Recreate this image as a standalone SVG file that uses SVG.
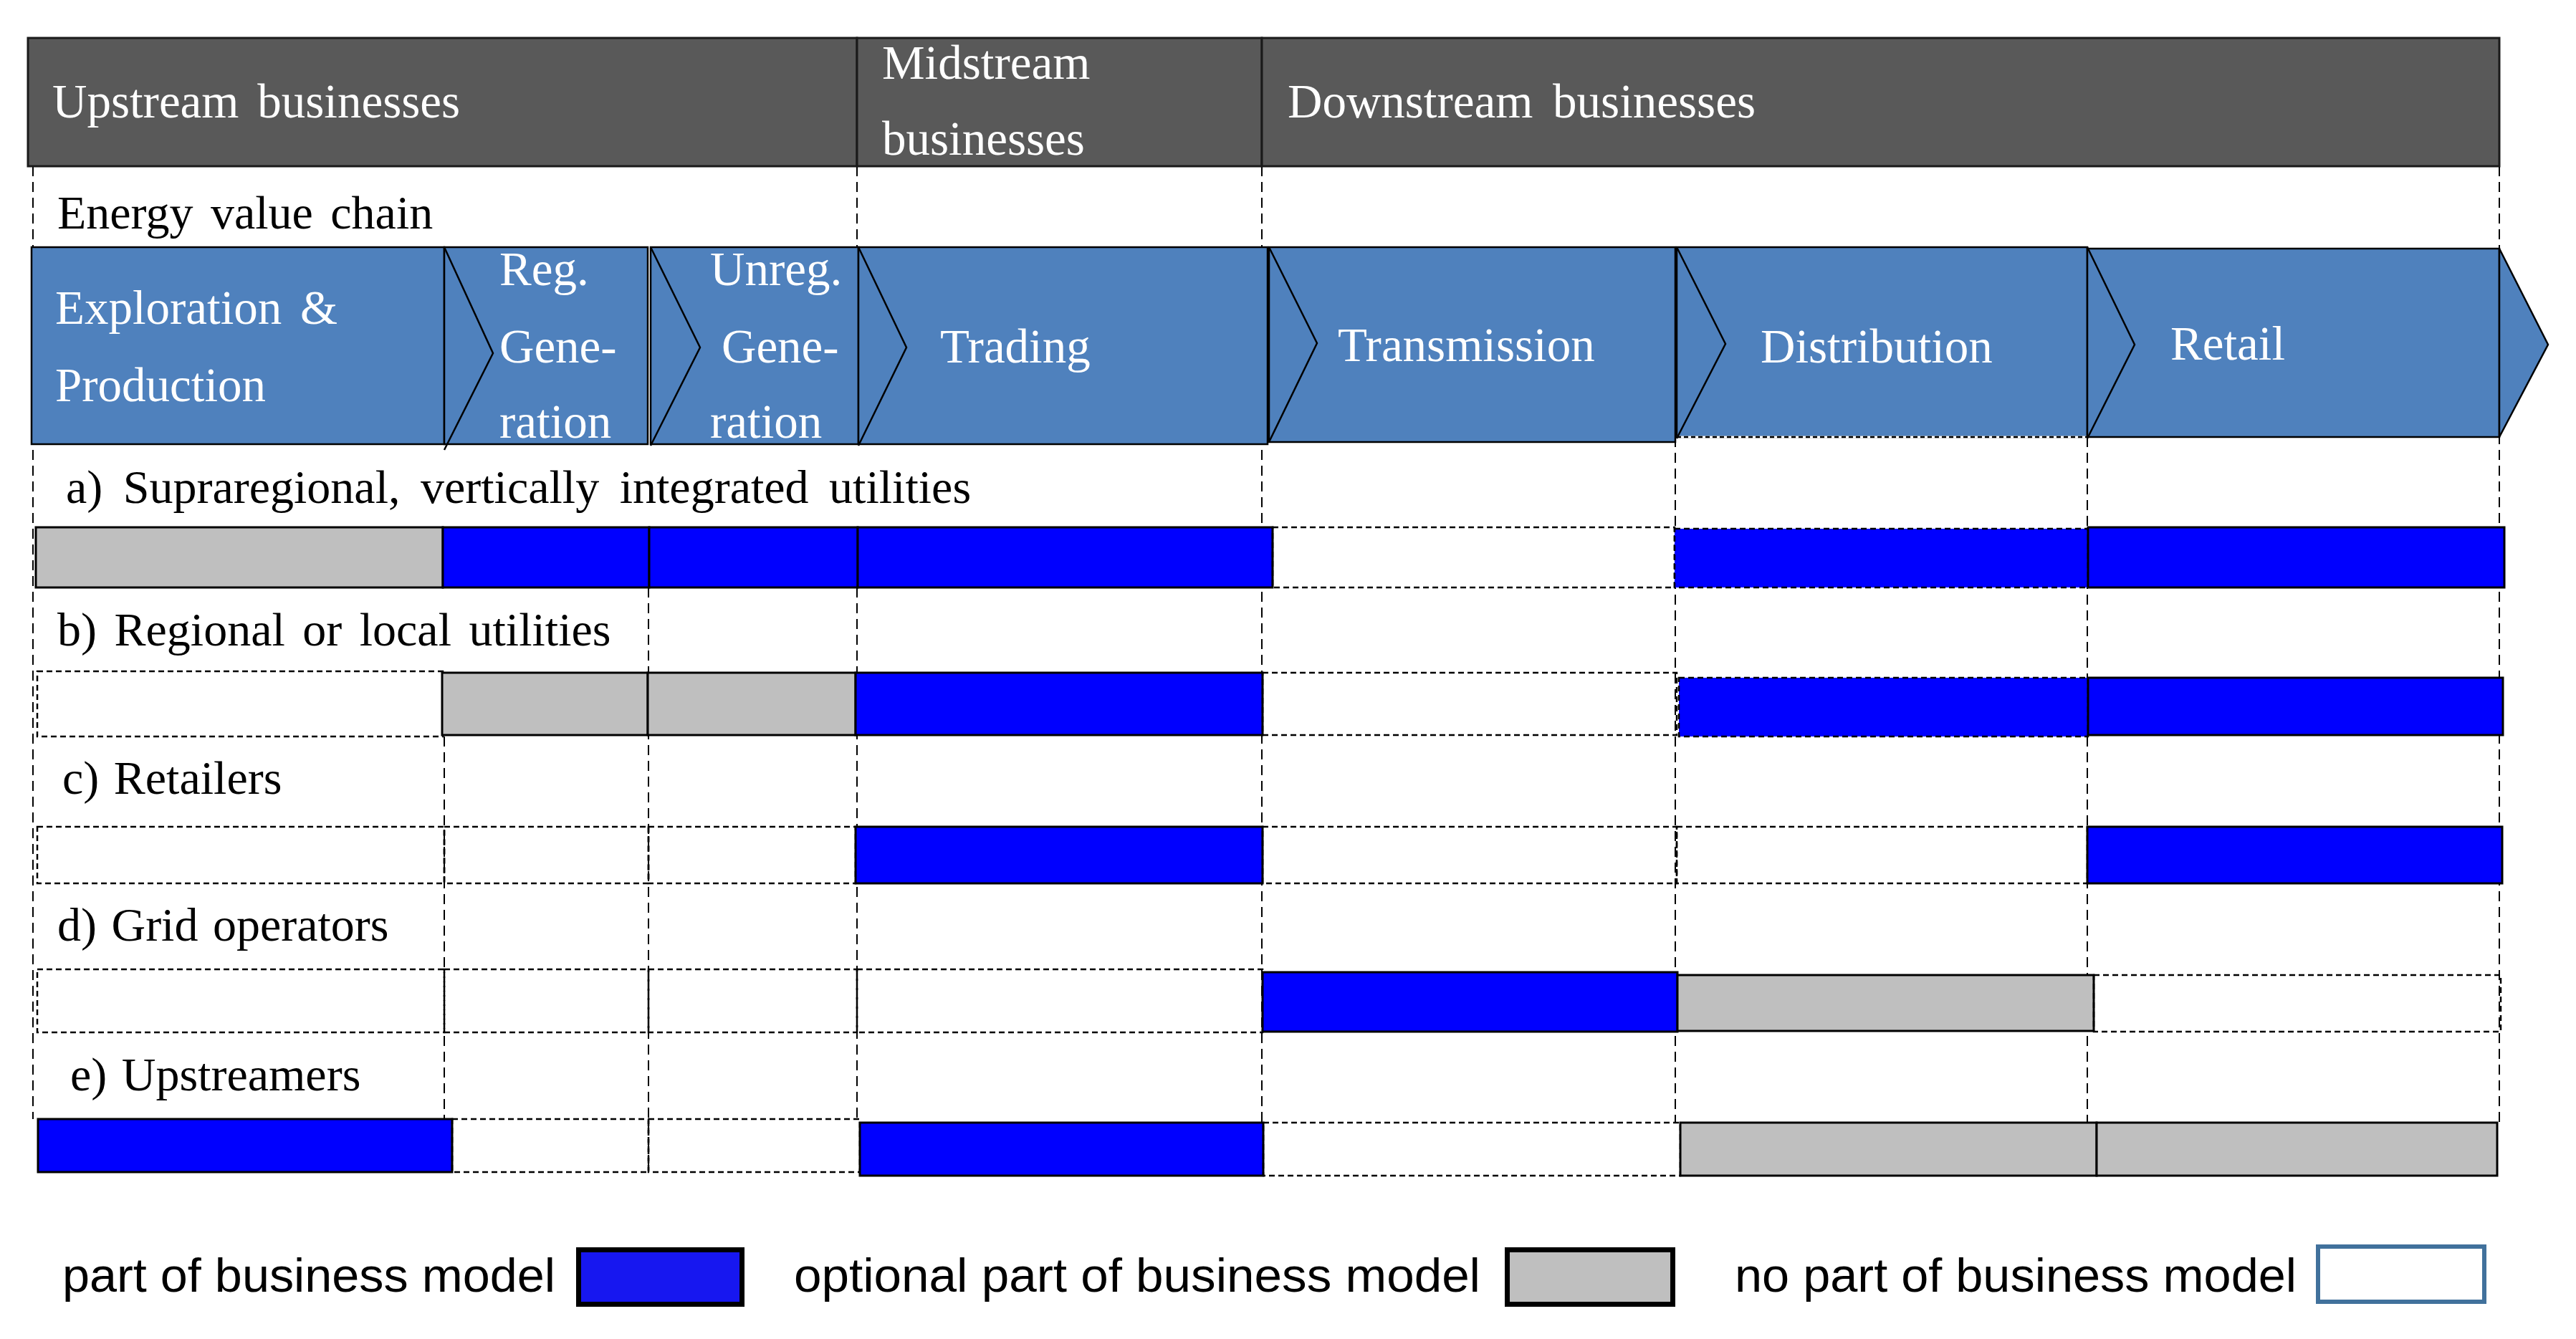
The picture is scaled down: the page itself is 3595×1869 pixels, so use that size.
<svg xmlns="http://www.w3.org/2000/svg" width="3595" height="1869" viewBox="0 0 3595 1869">
<style>
.serif{font-family:"Liberation Serif","Times New Roman",serif;font-size:67px;word-spacing:9px}
.lbl{font-family:"Liberation Serif","Times New Roman",serif;font-size:66px;word-spacing:4px}
.w{fill:#fff}
.k{fill:#000}
.legend{font-family:"Liberation Sans",Arial,sans-serif;font-size:66px;fill:#000}
.hdr{fill:#595959;stroke:#1a1a1a;stroke-width:3}
.chev{fill:#4F81BD;stroke:#000;stroke-width:2.5}
.tipline{fill:none;stroke:#000;stroke-width:2.5}
.blue{fill:#0000FF;stroke:#000;stroke-width:3}
.bluedash{fill:#0000FF;stroke:#000;stroke-width:2.5;stroke-dasharray:8 5}
.gray{fill:#BFBFBF;stroke:#000;stroke-width:3}
.empty{fill:none;stroke:#000;stroke-width:2.5;stroke-dasharray:8 5}
.vline{fill:none;stroke:#000;stroke-width:2;stroke-dasharray:14 8}
</style>
<rect width="3595" height="1869" fill="#fff"/>

<g id="gridlines">
<line class="vline" x1="46" y1="232" x2="46" y2="1562"/>
<line class="vline" x1="1196" y1="232" x2="1196" y2="345"/>
<line class="vline" x1="1196" y1="820" x2="1196" y2="1562"/>
<line class="vline" x1="1761" y1="232" x2="1761" y2="1567"/>
<line class="vline" x1="2338" y1="610" x2="2338" y2="1567"/>
<line class="vline" x1="2913" y1="610" x2="2913" y2="1567"/>
<line class="vline" x1="3488" y1="232" x2="3488" y2="1567"/>
<line class="vline" x1="620" y1="1028" x2="620" y2="1636"/>
<line class="vline" x1="905" y1="820" x2="905" y2="1636"/>
</g>

<g id="header">
<g id="hdr-upstream"><rect class="hdr" x="39" y="53" width="1157" height="179"/><text class="serif w" x="73" y="164">Upstream businesses</text></g>
<g id="hdr-midstream"><rect class="hdr" x="1196" y="53" width="565" height="179"/><text class="serif w" x="1231" y="110">Midstream</text><text class="serif w" x="1231" y="216">businesses</text></g>
<g id="hdr-downstream"><rect class="hdr" x="1761" y="53" width="1727" height="179"/><text class="serif w" x="1797" y="164" style="word-spacing:11px">Downstream businesses</text></g>
</g>

<g id="energy-value-chain-label"><text class="lbl k" x="80" y="319" style="word-spacing:8px">Energy value chain</text></g>

<g id="chevrons">
<g id="chev-exploration"><rect class="chev" x="44" y="345" width="576" height="275"/><text class="serif w" x="77" y="452">Exploration &amp;</text><text class="serif w" x="77" y="560">Production</text></g>
<g id="chev-reg-gen"><rect class="chev" x="620" y="345" width="284" height="275"/><polyline class="tipline" points="620,345 688,493 620,628"/><text class="serif w" x="697" y="398">Reg.</text><text class="serif w" x="697" y="506">Gene-</text><text class="serif w" x="697" y="611">ration</text></g>
<g id="chev-unreg-gen"><rect class="chev" x="908" y="345" width="290" height="275"/><polyline class="tipline" points="908,345 977,485 908,622"/><text class="serif w" x="991" y="398">Unreg.</text><text class="serif w" x="1007" y="506">Gene-</text><text class="serif w" x="991" y="611">ration</text></g>
<g id="chev-trading"><rect class="chev" x="1198" y="345" width="571" height="275"/><polyline class="tipline" points="1198,345 1265,485 1198,622"/><text class="serif w" x="1312" y="506">Trading</text></g>
<g id="chev-transmission"><rect class="chev" x="1771" y="345" width="567" height="272"/><polyline class="tipline" points="1771,345 1838,479 1771,617"/><text class="serif w" x="1867" y="504">Transmission</text></g>
<g id="chev-distribution"><rect class="chev" x="2340" y="345" width="573" height="265"/><line x1="2340" y1="610" x2="2913" y2="610" stroke="#fff" stroke-width="3"/><line x1="2340" y1="610" x2="2913" y2="610" stroke="#000" stroke-width="2.5" stroke-dasharray="6 4"/><polyline class="tipline" points="2340,345 2408,480 2340,612"/><text class="serif w" x="2457" y="506">Distribution</text></g>
<g id="chev-retail"><rect class="chev" x="2913" y="347" width="575" height="263"/><polyline class="tipline" points="2913,345 2979,481 2913,612"/><polygon class="chev" points="3488,347 3556,481 3488,610"/><text class="serif w" x="3029" y="502">Retail</text></g>
</g>

<g id="row-a">
<text class="lbl k" x="92" y="702" style="word-spacing:12px">a) Supraregional, vertically integrated utilities</text>
<rect class="gray" x="50" y="736" width="568" height="84"/>
<rect class="blue" x="618" y="736" width="288" height="84"/>
<rect class="blue" x="906" y="736" width="291" height="84"/>
<rect class="blue" x="1197" y="736" width="579" height="84"/>
<rect class="empty" x="1776" y="736" width="561" height="84"/>
<rect class="bluedash" x="2337" y="738" width="577" height="82"/>
<rect class="blue" x="2914" y="736" width="581" height="84"/>
</g>

<g id="row-b">
<text class="lbl k" x="80" y="901" style="word-spacing:8px">b) Regional or local utilities</text>
<rect class="empty" x="52" y="937" width="566" height="91"/>
<rect class="gray" x="617" y="939" width="287" height="87"/>
<rect class="gray" x="904" y="939" width="290" height="87"/>
<rect class="blue" x="1194" y="939" width="568" height="87"/>
<rect class="empty" x="1762" y="939" width="578" height="87"/>
<rect class="bluedash" x="2343" y="946" width="571" height="82"/>
<rect class="blue" x="2914" y="946" width="579" height="80"/>
</g>

<g id="row-c">
<text class="lbl k" x="87" y="1108">c) Retailers</text>
<rect class="empty" x="52" y="1154" width="568" height="79"/>
<rect class="empty" x="620" y="1154" width="285" height="79"/>
<rect class="empty" x="905" y="1154" width="289" height="79"/>
<rect class="blue" x="1194" y="1154" width="568" height="79"/>
<rect class="empty" x="1762" y="1154" width="578" height="79"/>
<rect class="empty" x="2340" y="1154" width="573" height="79"/>
<rect class="blue" x="2913" y="1154" width="579" height="79"/>
</g>

<g id="row-d">
<text class="lbl k" x="80" y="1313">d) Grid operators</text>
<rect class="empty" x="52" y="1353" width="568" height="88"/>
<rect class="empty" x="620" y="1353" width="285" height="88"/>
<rect class="empty" x="905" y="1353" width="291" height="88"/>
<rect class="empty" x="1196" y="1353" width="566" height="88"/>
<rect class="blue" x="1762" y="1357" width="579" height="83"/>
<rect class="gray" x="2341" y="1361" width="581" height="78"/>
<rect class="empty" x="2922" y="1361" width="568" height="79"/>
</g>

<g id="row-e">
<text class="lbl k" x="98" y="1522">e) Upstreamers</text>
<rect class="blue" x="53" y="1562" width="578" height="74"/>
<rect class="empty" x="631" y="1562" width="274" height="74"/>
<rect class="empty" x="905" y="1562" width="295" height="74"/>
<rect class="blue" x="1200" y="1567" width="563" height="74"/>
<rect class="empty" x="1763" y="1567" width="582" height="74"/>
<rect class="gray" x="2345" y="1567" width="581" height="74"/>
<rect class="gray" x="2926" y="1567" width="559" height="74"/>
</g>

<g id="legend">
<g id="legend-part"><text class="legend" x="87" y="1803" textLength="688" lengthAdjust="spacingAndGlyphs">part of business model</text><rect x="807.5" y="1744.5" width="228" height="76" fill="#1717F0" stroke="#000" stroke-width="7"/></g>
<g id="legend-optional"><text class="legend" x="1108" y="1803" textLength="958" lengthAdjust="spacingAndGlyphs">optional part of business model</text><rect x="2103.5" y="1744.5" width="231" height="76" fill="#BFBFBF" stroke="#000" stroke-width="7"/></g>
<g id="legend-none"><text class="legend" x="2421" y="1803" textLength="784" lengthAdjust="spacingAndGlyphs">no part of business model</text><rect x="3235" y="1740" width="232" height="77" fill="#fff" stroke="#41719C" stroke-width="6"/></g>
</g>
</svg>
